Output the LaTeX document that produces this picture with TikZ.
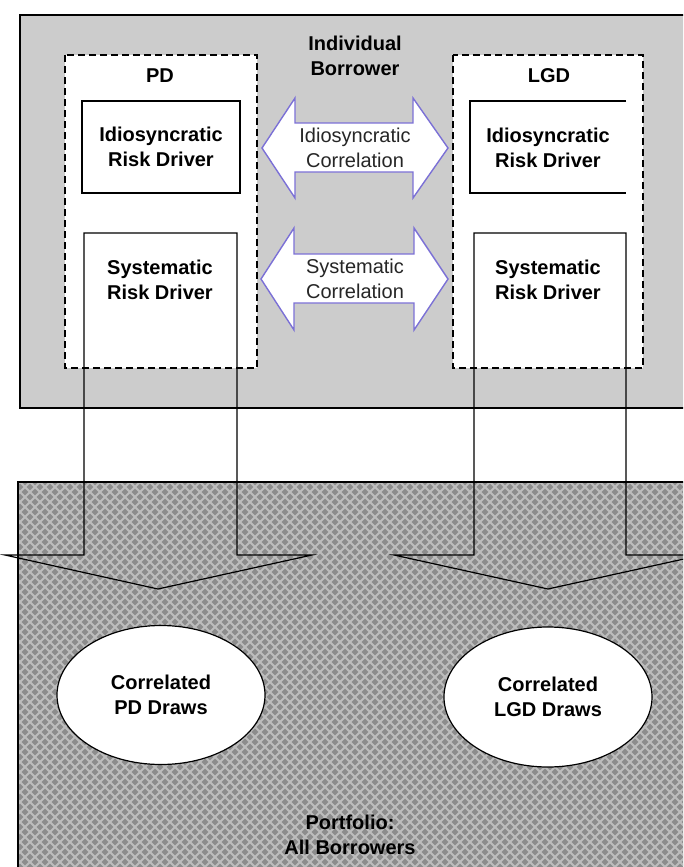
\documentclass[tikz,border=0pt]{standalone}
\usepackage{fontspec}
\setmainfont{Liberation Sans}
\usetikzlibrary{shapes.geometric}
\definecolor{topgray}{HTML}{CCCCCC}
\definecolor{hatchbase}{HTML}{8C8C8C}
\definecolor{hatchline}{HTML}{BDBDBD}
\definecolor{corrpurple}{HTML}{7B70D6}

\begin{document}
\begin{tikzpicture}[x=1pt, y=-1pt,
  lbl/.style={font=\fontsize{20}{25}\selectfont\bfseries, align=center, inner sep=0pt},
  corrlbl/.style={font=\fontsize{20}{25}\selectfont, align=center, inner sep=0pt, text=black!85},
  corrarrow/.style={draw=corrpurple, fill=white, line width=1.4pt, line join=miter},
  blockline/.style={draw=black, line width=1.2pt},
  dashbox/.style={draw=black, dash pattern=on 7pt off 4pt, line width=1.4pt, fill=white},
  driverbox/.style={draw=black, line width=1.2pt, fill=white, minimum width=158pt, minimum height=92pt}]
\useasboundingbox (0,0) rectangle (683,867);
\clip (0,0) rectangle (683,867);
\fill[white] (0,0) rectangle (683,867);
% individual borrower panel
\draw[black, line width=1.2pt, fill=topgray] (20,15) rectangle (700,408);
\draw[dashbox] (65,55) rectangle (257,368);
\draw[dashbox] (453,55) rectangle (643,368);
\node[lbl] (borrower) at (355,56) {Individual\\Borrower};
\node[lbl] (pdlabel) at (160,76) {PD};
\node[lbl] (lgdlabel) at (549,76) {LGD};
% idiosyncratic drivers
\node[driverbox, lbl] (pdidio) at (161,147) {Idiosyncratic\\Risk Driver};
\draw[blockline] (626,101) -- (470,101) -- (470,193) -- (626,193);
\node[lbl] (lgdidio) at (548,148) {Idiosyncratic\\Risk Driver};
% correlation arrows
\draw[corrarrow] (262,148) -- (295,98) -- (295,123) -- (413,123) -- (413,98) -- (448,148)
  -- (413,198) -- (413,172) -- (295,172) -- (295,198) -- cycle;
\node[corrlbl] (idiocorr) at (355,148) {Idiosyncratic\\Correlation};
\draw[corrarrow] (261,279) -- (294,228) -- (294,254) -- (414,254) -- (414,228) -- (448,279)
  -- (414,330) -- (414,303) -- (294,303) -- (294,330) -- cycle;
\node[corrlbl] (syscorr) at (355,279) {Systematic\\Correlation};
% portfolio panel, crosshatched
\fill[hatchbase] (18,482) rectangle (700,900);
\begin{scope}
  \clip (18,482) rectangle (700,900);
  \foreach \k in {-420,-410,...,700} {
    \draw[hatchline, line width=2pt] (\k,482) -- ++(420,420);
    \draw[hatchline, line width=2pt] (\k+420,482) -- ++(-420,420);
  }
\end{scope}
\draw[black, line width=1.2pt] (18,900) -- (18,482) -- (700,482);
% systematic drivers feeding the portfolio
\draw[blockline] (84,233) -- (237,233) -- (237,555) -- (312,555) -- (158,589) -- (5,555) -- (84,555) -- cycle;
\node[lbl] (pdsys) at (160,280) {Systematic\\Risk Driver};
\draw[blockline] (474,233) -- (626,233) -- (626,555) -- (702,555) -- (548,589) -- (394,555) -- (474,555) -- cycle;
\node[lbl] (lgdsys) at (548,280) {Systematic\\Risk Driver};
% correlated draws
\node[draw=black, line width=1.2pt, fill=white, ellipse, minimum width=208pt, minimum height=139pt, inner sep=0pt,
  font=\fontsize{20}{25}\selectfont\bfseries, align=center] (pddraws) at (161,695) {Correlated\\PD Draws};
\node[draw=black, line width=1.2pt, fill=white, ellipse, minimum width=208pt, minimum height=140pt, inner sep=0pt,
  font=\fontsize{20}{25}\selectfont\bfseries, align=center] (lgddraws) at (548,697) {Correlated\\LGD Draws};
\node[lbl] (portfolio) at (350,835) {Portfolio:\\All Borrowers};
\end{tikzpicture}
\end{document}
